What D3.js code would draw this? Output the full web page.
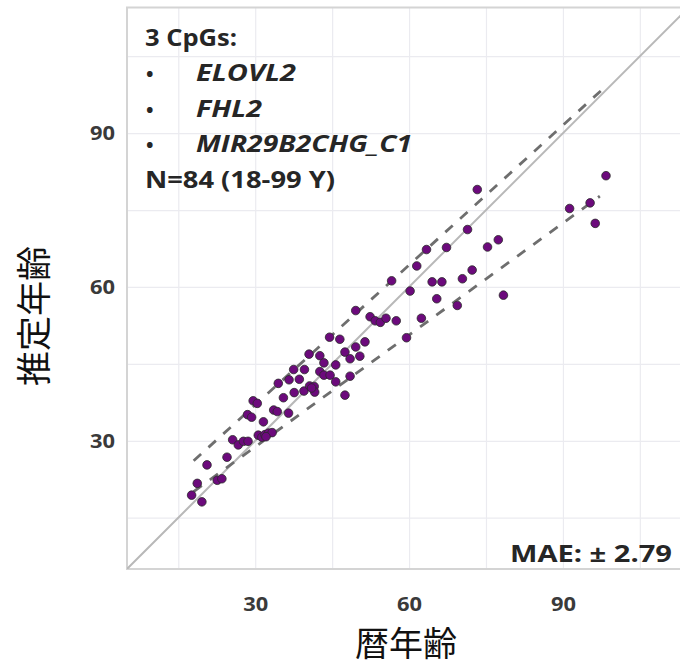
<!DOCTYPE html>
<html><head><meta charset="utf-8">
<script src="https://cdn.jsdelivr.net/npm/d3@7/dist/d3.min.js"></script>
<style>body{margin:0;background:#fff}svg{display:block}</style>
</head><body><svg id="c" width="680" height="667"></svg>
<script>
// Chronological age (x) and estimated age (y) for each sample
const chronAge = [98.4,95.3,91.3,96.3,73.3,71.4,77.4,75.3,67.3,63.4,61.5,72.3,70.4,66.4,64.5,60.2,78.4,65.4,69.4,62.4,59.5,56.6,
  49.6,52.4,53.4,54.4,55.5,57.5,51.4,49.6,46.5,44.5,47.5,50.4,48.5,45.7,40.5,42.6,43.4,37.5,39.6,42.6,43.4,44.6,45.7,48.5,
  34.5,36.6,38.6,39.5,40.6,41.5,41.6,37.6,35.5,47.5,29.6,30.4,33.6,34.3,36.5,28.5,29.3,31.6,
  30.6,31.3,31.9,32.6,33.3,32.1,25.6,26.7,27.7,28.6,24.5,20.6,22.6,23.5,18.7,17.6,19.6,41.0];
const estAge = [81.7,76.4,75.3,72.4,79.0,71.2,69.2,67.8,67.7,67.3,64.1,63.3,61.6,61.0,61.0,59.2,58.4,57.7,56.4,53.9,50.1,61.2,
  55.4,54.2,53.4,53.1,53.9,53.4,49.3,48.3,49.8,50.2,47.3,46.5,46.0,44.8,46.9,46.6,45.2,43.9,43.9,43.5,42.8,42.8,41.5,42.6,
  41.2,41.9,42.0,39.7,40.7,40.6,39.5,39.4,38.4,38.9,37.8,37.3,36.0,35.7,35.4,35.1,34.6,33.7,
  31.1,30.7,31.2,31.5,31.6,30.8,30.2,29.2,29.9,29.9,26.8,25.3,22.3,22.6,21.7,19.4,18.1,40.3];
// Dashed reference lines (endpoints)
const upperX = [18, 98], upperY = [26.1, 98.8];
const lowerX = [18, 97.2], lowerY = [20.1, 77.7];
const gridTicks = [15,30,45,60,75,90,105];
const labelTicks = [30,60,90];
const legendTitle = "3 CpGs:";
const genes = ["ELOVL2","FHL2","MIR29B2CHG_C1"];
const sampleNote = "N=84 (18-99 Y)";
const maeText = "MAE: \u00B1 2.79";
const xTitle = "暦年齢", yTitle = "推定年齢";

const svg = d3.select("#c");
const L=127, R=686, T=7.5, B=569;
const x = d3.scaleLinear().domain([5,114]).range([L,R]);
const y = d3.scaleLinear().domain([5,114.5]).range([B,T]);

svg.append("defs").append("clipPath").attr("id","pc").append("rect")
  .attr("x",L).attr("y",T).attr("width",R-L).attr("height",B-T);

// grid
const gx = svg.append("g").attr("transform",`translate(0,${B})`)
  .call(d3.axisBottom(x).tickValues(gridTicks).tickSize(-(B-T)).tickFormat(""));
const gy = svg.append("g").attr("transform",`translate(${L},0)`)
  .call(d3.axisLeft(y).tickValues(gridTicks).tickSize(-(R-L)).tickFormat(""));
[gx,gy].forEach(g=>{g.select(".domain").remove();g.selectAll("line").attr("stroke","#ebebf0").attr("stroke-width",1.2);});

// frame
svg.append("rect").attr("x",L).attr("y",T).attr("width",R-L).attr("height",B-T)
  .attr("fill","none").attr("stroke","#d4d4d4").attr("stroke-width",2);

const plot = svg.append("g").attr("clip-path","url(#pc)");
const line = d3.line().x(d=>x(d[0])).y(d=>y(d[1]));
plot.append("path").attr("d",line([[5,5],[120,120]])).attr("stroke","#b8b8b8").attr("stroke-width",2).attr("fill","none");
plot.append("path").attr("d",line(upperX.map((v,i)=>[v,upperY[i]])))
  .attr("stroke","#6e6e6e").attr("stroke-width",2.8).attr("stroke-dasharray","10,10").attr("fill","none");
plot.append("path").attr("d",line(lowerX.map((v,i)=>[v,lowerY[i]])))
  .attr("stroke","#6e6e6e").attr("stroke-width",2.8).attr("stroke-dasharray","10,10").attr("fill","none");

plot.selectAll("circle.pt").data(chronAge.map((v,i)=>[v,estAge[i]])).join("circle")
  .attr("class","pt").attr("cx",d=>x(d[0])).attr("cy",d=>y(d[1])).attr("r",4.3)
  .attr("fill","#6c0a7c").attr("stroke","#2a2a2a").attr("stroke-width",0.8);

// tick labels
const font = "'Open Sans', Lato, sans-serif";
const xl = svg.append("g").attr("transform",`translate(0,${B})`)
  .call(d3.axisBottom(x).tickValues(labelTicks).tickSize(0).tickPadding(28));
const yl = svg.append("g").attr("transform",`translate(${L},0)`)
  .call(d3.axisLeft(y).tickValues(labelTicks).tickSize(0).tickPadding(12));
[xl,yl].forEach(g=>{g.select(".domain").remove();
  g.selectAll("text").attr("font-family",font).attr("font-weight","bold").attr("font-size",20)
   .attr("fill","#3a3a3a").attr("textLength",25).attr("lengthAdjust","spacingAndGlyphs");});

// legend text
const lg = svg.append("g").attr("font-family",font).attr("font-weight","bold").attr("fill","#262626").attr("font-size",24);
const fit = (sel,w)=>sel.attr("textLength",w).attr("lengthAdjust","spacingAndGlyphs");
fit(lg.append("text").attr("x",145).attr("y",46).text(legendTitle),92);
const geneW = [100,66,216];
genes.forEach((g,i)=>{
  const yy = 81 + i*35.5;
  lg.append("text").attr("x",146).attr("y",yy).attr("font-size",20).text("\u2022");
  fit(lg.append("text").attr("x",196).attr("y",yy).attr("font-style","italic").text(g),geneW[i]);
});
fit(lg.append("text").attr("x",145).attr("y",188).text(sampleNote),190);
fit(svg.append("text").attr("x",510).attr("y",562)
  .attr("font-family",font).attr("font-weight","bold").attr("font-size",24).attr("fill","#262626").text(maeText),162);

// axis titles
svg.append("text").attr("x",406).attr("y",656).attr("text-anchor","middle")
  .attr("font-family","'Noto Sans CJK JP'").attr("font-size",34).attr("fill","#111").text(xTitle);
svg.append("text").attr("transform","translate(47,316) rotate(-90)").attr("text-anchor","middle")
  .attr("font-family","'Noto Sans CJK JP'").attr("font-size",35).attr("fill","#111").text(yTitle);
</script></body></html>
